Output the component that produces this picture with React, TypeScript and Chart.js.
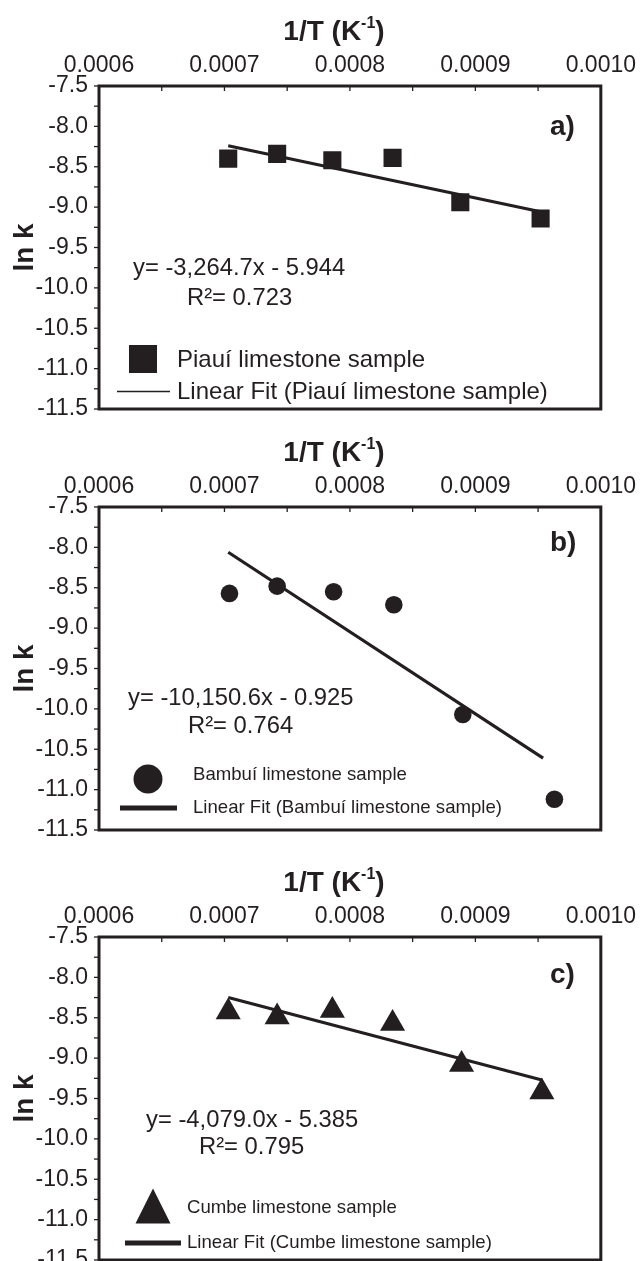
import React, { useEffect, useRef } from "react";
import { Chart, registerables } from "chart.js";

Chart.register(...registerables);

// ---------- data ----------
const xTickValues = [0.0006, 0.0007, 0.0008, 0.0009, 0.001];
const yTickValues = [-7.5, -8.0, -8.5, -9.0, -9.5, -10.0, -10.5, -11.0, -11.5];

const invT_a = [0.000703, 0.000742, 0.000786, 0.000834, 0.000888, 0.000952];
const lnk_a = [-8.4, -8.34, -8.42, -8.39, -8.94, -9.14];
const fitX_a = [0.000703, 0.000953];
const fitY_a = [-8.24, -9.06];

const invT_b = [0.000704, 0.000742, 0.000787, 0.000835, 0.00089, 0.000963];
const lnk_b = [-8.57, -8.48, -8.55, -8.71, -10.07, -11.12];
const fitX_b = [0.000703, 0.000954];
const fitY_b = [-8.06, -10.61];

const invT_c = [0.000703, 0.000742, 0.000786, 0.000834, 0.000889, 0.000953];
const lnk_c = [-8.43, -8.49, -8.41, -8.57, -9.08, -9.42];
const fitX_c = [0.000703, 0.000953];
const fitY_c = [-8.25, -9.27];

const eqTexts = ["y= -3,264.7x - 5.944", "y= -10,150.6x - 0.925", "y= -4,079.0x - 5.385"];
const r2Texts = ["R\u00B2= 0.723", "R\u00B2= 0.764", "R\u00B2= 0.795"];
const sampleNames = ["Piau\u00ED limestone sample", "Bambu\u00ED limestone sample", "Cumbe limestone sample"];
const panelLabels = ["a)", "b)", "c)"];

// ---------- styling / layout ----------
const INK = "#231f20";
const FONT = "'Liberation Sans', Arial, Helvetica, sans-serif";
const AREA_LEFT = 99;
const AREA_RIGHT = 606;
const W = 643;
const H = 1261;
const CANVAS_H = 440;

type Layout = {
  top: number;
  areaTop: number;
  areaBottom: number;
  style: "rect" | "circle" | "triangle";
  radius: number;
  labelY: number;
  eqX: number; eqY: number; r2X: number; r2Y: number; eqSize: number;
  markerCX: number; markerCY: number; markerSize: number;
  markerTextX: number; markerTextY: number;
  lineX1: number; lineX2: number; lineY: number; lineW: number;
  lineTextX: number; legendSize: number;
};

const layouts: Layout[] = [
  {
    top: 0, areaTop: 86, areaBottom: 409, style: "rect", radius: 12.8, labelY: 127,
    eqX: 133, eqY: 268, r2X: 187, r2Y: 298, eqSize: 23.8,
    markerCX: 143, markerCY: 359, markerSize: 28,
    markerTextX: 177, markerTextY: 360,
    lineX1: 117, lineX2: 170, lineY: 391.5, lineW: 1.3,
    lineTextX: 177, legendSize: 24,
  },
  {
    top: 421, areaTop: 86, areaBottom: 409, style: "circle", radius: 8.8, labelY: 122,
    eqX: 128, eqY: 277, r2X: 188, r2Y: 305, eqSize: 23.8,
    markerCX: 148, markerCY: 358, markerSize: 29,
    markerTextX: 193, markerTextY: 354,
    lineX1: 120, lineX2: 177, lineY: 387, lineW: 5,
    lineTextX: 193, legendSize: 18.6,
  },
  {
    top: 849, areaTop: 88, areaBottom: 411, style: "triangle", radius: 14.5, labelY: 126,
    eqX: 146, eqY: 271, r2X: 199, r2Y: 298, eqSize: 23.8,
    markerCX: 153, markerCY: 357, markerSize: 35,
    markerTextX: 187, markerTextY: 359,
    lineX1: 125, lineX2: 181, lineY: 394, lineW: 5,
    lineTextX: 187, legendSize: 18.6,
  },
];

const seriesX = [invT_a, invT_b, invT_c];
const seriesY = [lnk_a, lnk_b, lnk_c];
const fitXs = [fitX_a, fitX_b, fitX_c];
const fitYs = [fitY_a, fitY_b, fitY_c];

function midpoints(arr: number[]) {
  const out: number[] = [];
  for (let i = 0; i < arr.length - 1; i++) out.push((arr[i] + arr[i + 1]) / 2);
  return out;
}

function PanelChart({ idx }: { idx: number }) {
  const ref = useRef<HTMLCanvasElement>(null);
  const L = layouts[idx];

  useEffect(() => {
    const canvas = ref.current;
    if (!canvas) return;
    const titleY = L.areaTop - 54;

    const decor = {
      id: "decor" + idx,
      afterDraw(chart: any) {
        const { ctx, chartArea: ca, scales } = chart;
        const xs = scales.x;
        const ys = scales.y;
        ctx.save();
        ctx.strokeStyle = INK;
        ctx.fillStyle = INK;

        // tick marks: x on top (inward), y on left (outward)
        ctx.lineWidth = 1.3;
        const xAll = [...xTickValues, ...midpoints(xTickValues)];
        xAll.forEach((v) => {
          const px = xs.getPixelForValue(v);
          ctx.beginPath();
          ctx.moveTo(px, ca.top);
          ctx.lineTo(px, ca.top + 5);
          ctx.stroke();
        });
        const yAll = [...yTickValues, ...midpoints(yTickValues)];
        yAll.forEach((v) => {
          const py = ys.getPixelForValue(v);
          ctx.beginPath();
          ctx.moveTo(ca.left - 5, py);
          ctx.lineTo(ca.left, py);
          ctx.stroke();
        });

        // frame
        ctx.lineWidth = 3;
        ctx.strokeRect(ca.left, ca.top, ca.right - ca.left, ca.bottom - ca.top);

        // x axis title with superscript
        ctx.textBaseline = "middle";
        ctx.textAlign = "left";
        const t1 = "1/T (K";
        const sup = "-1";
        const t2 = ")";
        ctx.font = `bold 28px ${FONT}`;
        const w1 = ctx.measureText(t1).width;
        const w3 = ctx.measureText(t2).width;
        ctx.font = `bold 16px ${FONT}`;
        const w2 = ctx.measureText(sup).width;
        const total = w1 + w2 + w3;
        let tx = 334 - total / 2;
        ctx.font = `bold 28px ${FONT}`;
        ctx.fillText(t1, tx, titleY);
        tx += w1;
        ctx.font = `bold 16px ${FONT}`;
        ctx.fillText(sup, tx, titleY - 8);
        tx += w2;
        ctx.font = `bold 28px ${FONT}`;
        ctx.fillText(t2, tx, titleY);

        // y axis title
        ctx.save();
        ctx.translate(25, (ca.top + ca.bottom) / 2);
        ctx.rotate(-Math.PI / 2);
        ctx.textAlign = "center";
        ctx.font = `bold 28px ${FONT}`;
        ctx.fillText("ln k", 0, 0);
        ctx.restore();

        // panel label
        ctx.textAlign = "left";
        ctx.font = `bold 28px ${FONT}`;
        ctx.fillText(panelLabels[idx], 550, L.labelY);

        // equation
        ctx.font = `${L.eqSize}px ${FONT}`;
        ctx.fillText(eqTexts[idx], L.eqX, L.eqY);
        ctx.fillText(r2Texts[idx], L.r2X, L.r2Y);

        // legend marker
        const s = L.markerSize;
        ctx.beginPath();
        if (L.style === "rect") {
          ctx.rect(L.markerCX - s / 2, L.markerCY - s / 2, s, s);
        } else if (L.style === "circle") {
          ctx.arc(L.markerCX, L.markerCY, s / 2, 0, Math.PI * 2);
        } else {
          ctx.moveTo(L.markerCX, L.markerCY - s / 2);
          ctx.lineTo(L.markerCX + s / 2, L.markerCY + s / 2);
          ctx.lineTo(L.markerCX - s / 2, L.markerCY + s / 2);
          ctx.closePath();
        }
        ctx.fill();

        ctx.font = `${L.legendSize}px ${FONT}`;
        ctx.fillText(sampleNames[idx], L.markerTextX, L.markerTextY);

        // legend line
        ctx.lineWidth = L.lineW;
        ctx.beginPath();
        ctx.moveTo(L.lineX1, L.lineY);
        ctx.lineTo(L.lineX2, L.lineY);
        ctx.stroke();
        ctx.fillText(`Linear Fit (${sampleNames[idx]})`, L.lineTextX, Math.round(L.lineY));

        ctx.restore();
      },
    };

    const pts = seriesX[idx].map((v, i) => ({ x: v, y: seriesY[idx][i] }));
    const fit = fitXs[idx].map((v, i) => ({ x: v, y: fitYs[idx][i] }));

    const chart = new Chart(canvas, {
      type: "scatter",
      data: {
        datasets: [
          {
            label: sampleNames[idx],
            data: pts,
            pointStyle: L.style,
            pointRadius: L.radius,
            pointHoverRadius: L.radius,
            backgroundColor: INK,
            borderColor: INK,
            borderWidth: 0,
            showLine: false,
            order: 1,
          } as any,
          {
            label: `Linear Fit (${sampleNames[idx]})`,
            data: fit,
            showLine: true,
            borderColor: INK,
            borderWidth: 3.2,
            pointRadius: 0,
            order: 2,
          } as any,
        ],
      },
      options: {
        responsive: false,
        animation: false,
        devicePixelRatio: 1,
        layout: {
          padding: { top: L.areaTop - 40, left: 0, right: W - AREA_RIGHT, bottom: CANVAS_H - L.areaBottom },
        },
        plugins: {
          legend: { display: false },
          tooltip: { enabled: false },
          title: { display: false },
        },
        scales: {
          x: {
            type: "linear",
            position: "top",
            min: 0.0006,
            max: 0.001,
            grid: { display: false, drawTicks: false },
            border: { display: false },
            ticks: {
              color: INK,
              font: { family: FONT, size: 23 },
              padding: 7,
              maxRotation: 0,
              autoSkip: false,
              callback: (v: any) => Number(v).toFixed(4),
            },
            afterBuildTicks: (s: any) => {
              s.ticks = xTickValues.map((v) => ({ value: v }));
            },
            afterFit: (s: any) => {
              s.height = 40;
            },
          },
          y: {
            type: "linear",
            position: "left",
            min: -11.5,
            max: -7.5,
            grid: { display: false, drawTicks: false },
            border: { display: false },
            ticks: {
              color: INK,
              font: { family: FONT, size: 23 },
              padding: 11,
              autoSkip: false,
              callback: (v: any) => Number(v).toFixed(1),
            },
            afterBuildTicks: (s: any) => {
              s.ticks = yTickValues.map((v) => ({ value: v }));
            },
            afterFit: (s: any) => {
              s.width = AREA_LEFT;
            },
          },
        },
      } as any,
      plugins: [decor],
    });

    return () => chart.destroy();
  }, [idx]);

  return (
    <canvas
      ref={ref}
      width={W}
      height={CANVAS_H}
      style={{ position: "absolute", left: 0, top: L.top, display: "block", width: W, height: CANVAS_H }}
    />
  );
}

export default function App() {
  useEffect(() => {
    document.body.style.margin = "0";
    document.body.style.background = "#ffffff";
  }, []);
  return (
    <div
      style={{
        position: "absolute",
        left: 0,
        top: 0,
        width: W,
        height: H,
        overflow: "hidden",
        background: "#ffffff",
      }}
    >
      <PanelChart idx={0} />
      <PanelChart idx={1} />
      <PanelChart idx={2} />
    </div>
  );
}
